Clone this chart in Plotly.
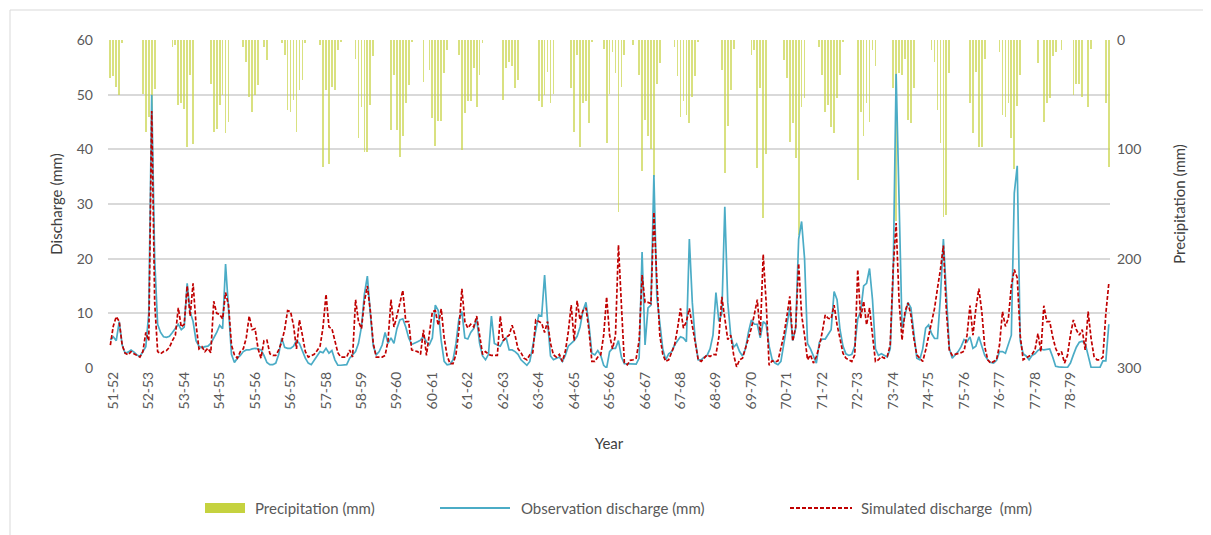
import plotly.graph_objects as go

# ---------------- data (monthly, 339 months) ----------------
year_labels = ["51-52", "52-53", "53-54", "54-55", "55-56", "56-57", "57-58", "58-59",
               "59-60", "60-61", "61-62", "62-63", "63-64", "64-65", "65-66", "66-67",
               "67-68", "68-69", "69-70", "70-71", "71-72", "72-73", "73-74", "74-75",
               "75-76", "76-77", "77-78", "78-79"]

precipitation = [
    35, 33, 43, 50, 3, 0, 0, 0, 0, 0, 0, 49,
    84, 70, 85, 45, 0, 0, 0, 0, 0, 6, 5, 59,
    58, 63, 98, 32, 95, 0, 0, 0, 0, 0, 40, 84,
    81, 59, 50, 85, 75, 0, 0, 0, 0, 6, 20, 52,
    66, 50, 41, 0, 6, 18, 0, 0, 0, 0, 3, 14,
    64, 66, 55, 84, 46, 37, 3, 0, 0, 0, 0, 5,
    116, 46, 113, 43, 46, 9, 2, 0, 0, 0, 0, 17,
    90, 61, 102, 102, 59, 15, 0, 0, 0, 0, 0, 82,
    32, 82, 107, 88, 58, 41, 2, 0, 0, 0, 38, 0,
    27, 71, 97, 74, 74, 30, 9, 0, 0, 0, 14, 101,
    67, 56, 56, 26, 61, 32, 3, 0, 0, 0, 0, 0,
    0, 55, 26, 20, 24, 44, 37, 0, 0, 0, 0, 0,
    0, 56, 61, 50, 29, 58, 49, 0, 0, 0, 0, 0,
    44, 84, 14, 98, 58, 56, 76, 2, 0, 0, 0, 8,
    94, 49, 11, 30, 157, 43, 14, 0, 0, 5, 0, 32,
    120, 73, 88, 100, 125, 40, 21, 0, 0, 0, 0, 6,
    33, 70, 56, 69, 76, 52, 33, 2, 0, 0, 0, 0,
    0, 0, 0, 27, 122, 79, 46, 8, 0, 0, 0, 0,
    0, 14, 9, 117, 44, 163, 104, 0, 0, 0, 0, 0,
    18, 35, 93, 76, 108, 178, 61, 53, 0, 0, 0, 0,
    6, 32, 66, 59, 80, 85, 53, 32, 2, 0, 0, 0,
    0, 128, 66, 88, 58, 75, 9, 24, 0, 0, 0, 0,
    0, 44, 166, 30, 32, 17, 73, 76, 44, 0, 0, 0,
    0, 0, 9, 20, 64, 94, 162, 160, 30, 0, 0, 0,
    0, 0, 0, 58, 85, 29, 98, 98, 17, 0, 0, 0,
    0, 11, 69, 70, 58, 90, 118, 60, 32, 0, 0, 0,
    0, 0, 21, 0, 75, 58, 53, 15, 11, 0, 9, 0,
    0, 0, 50, 40, 40, 52, 0, 61, 8, 0, 0, 0,
    0, 58, 116,
]

observed = [
    5.1, 5.7, 5.0, 8.5, 4.2, 2.7, 2.9, 3.3, 2.9, 2.4, 2.1, 3.0,
    3.9, 10.0, 50.0, 20.0, 8.0, 6.5, 5.7, 5.6, 5.8, 6.5, 7.2, 8.0,
    7.0, 7.5, 15.5, 10.3, 8.5, 5.0, 4.0, 3.7, 3.9, 4.0, 4.5, 5.5,
    6.5, 7.8, 7.2, 19.0, 10.0, 2.5, 1.0, 1.8, 2.3, 3.0, 3.3, 3.3,
    3.5, 3.6, 3.5, 3.3, 2.3, 1.0, 0.6, 0.6, 0.9, 2.5, 5.5, 3.8,
    3.6, 3.6, 4.0, 5.0, 4.5, 3.0, 1.8, 0.9, 0.6, 1.4, 2.3, 3.0,
    2.8, 3.6, 2.7, 3.2, 1.5, 0.5, 0.5, 0.5, 0.6, 1.8, 2.5, 3.0,
    4.5, 7.5, 13.5, 16.8, 10.0, 4.0, 2.4, 3.0, 4.2, 6.5, 4.5, 5.5,
    4.5, 7.2, 8.8, 9.0, 7.5, 5.5, 4.3, 4.5, 4.8, 5.1, 5.8, 4.8,
    4.3, 5.5, 11.5, 10.5, 5.0, 1.2, 0.6, 0.7, 1.5, 4.5, 9.0, 10.3,
    5.5, 5.3, 6.5, 7.2, 9.0, 4.5, 2.2, 1.5, 2.5, 9.5, 4.5, 4.2,
    4.0, 5.0, 5.5, 3.3, 3.3, 3.0, 2.5, 1.5, 1.0, 0.5, 1.2, 4.0,
    7.0, 9.7, 9.5, 17.0, 8.5, 2.2, 1.5, 1.8, 2.0, 1.2, 2.3, 4.0,
    4.5, 5.0, 5.8, 7.5, 10.5, 12.0, 8.0, 2.7, 2.4, 3.2, 2.3, 0.5,
    0.0, 3.0, 3.6, 3.6, 5.0, 2.0, 0.8, 0.8, 0.8, 0.8, 0.7, 1.8,
    21.2, 4.2, 11.0, 11.5, 35.3, 13.0, 8.5, 3.5, 1.5, 2.6, 3.0, 4.2,
    5.0, 5.7, 5.5, 4.8, 23.6, 12.0, 5.0, 1.5, 1.5, 2.0, 2.3, 3.5,
    6.0, 13.8, 8.5, 10.0, 29.5, 12.0, 6.0, 3.8, 4.4, 3.0, 2.2, 3.5,
    6.5, 8.8, 8.0, 8.0, 5.5, 8.5, 8.0, 4.0, 1.6, 0.9, 0.6, 1.2,
    4.5, 7.6, 11.0, 5.0, 7.3, 23.6, 26.8, 20.0, 4.5, 3.5, 2.0, 0.9,
    4.7, 5.3, 5.3, 6.2, 7.0, 14.0, 12.5, 7.0, 4.0, 2.6, 2.3, 2.5,
    4.0, 9.0, 10.3, 15.0, 15.5, 18.2, 12.5, 3.5, 2.3, 2.6, 2.3, 2.0,
    3.5, 17.0, 53.8, 28.0, 7.3, 9.6, 12.0, 11.0, 6.0, 1.8, 1.5, 3.5,
    7.3, 7.9, 6.3, 5.4, 5.4, 13.0, 23.6, 14.6, 3.6, 1.8, 2.4, 3.0,
    3.9, 5.2, 4.8, 5.7, 3.6, 4.0, 5.7, 3.9, 2.3, 1.5, 1.0, 0.9,
    1.4, 3.0, 3.0, 2.7, 4.2, 6.0, 32.0, 37.0, 5.0, 2.6, 2.2, 1.5,
    2.3, 2.6, 3.2, 3.5, 3.3, 3.4, 3.5, 2.0, 0.3, 0.2, 0.1, 0.1,
    0.1, 0.9, 2.4, 3.8, 4.7, 4.9, 4.5, 2.0, 0.1, 0.1, 0.1, 0.1,
    1.3, 1.3, 8.0,
]

simulated = [
    4.2, 7.7, 9.4, 8.5, 4.2, 2.7, 2.4, 3.0, 2.6, 2.3, 2.0, 3.0,
    6.5, 5.0, 47.0, 12.0, 3.0, 2.6, 3.0, 3.2, 3.8, 5.0, 6.0, 11.0,
    7.5, 8.0, 15.0, 9.5, 15.5, 8.0, 3.5, 3.9, 3.0, 3.6, 2.8, 12.2,
    10.0, 9.8, 9.0, 13.8, 11.5, 4.2, 2.4, 1.8, 3.0, 3.5, 5.5, 9.5,
    7.0, 7.2, 3.5, 1.8, 5.0, 5.1, 2.6, 2.3, 2.3, 3.3, 4.8, 7.0,
    10.5, 10.3, 7.8, 3.5, 8.8, 6.0, 3.0, 2.0, 2.2, 2.5, 3.2, 4.0,
    7.5, 13.5, 7.5, 7.2, 5.0, 2.8, 2.0, 2.0, 2.0, 3.3, 2.0, 12.5,
    8.5, 7.2, 12.2, 15.0, 10.5, 4.5, 2.0, 2.0, 2.0, 2.3, 5.0, 12.5,
    7.5, 9.5, 12.0, 14.2, 8.5, 8.5, 3.3, 3.1, 3.0, 2.5, 7.0, 2.3,
    6.0, 10.3, 10.5, 7.8, 10.8, 5.5, 2.2, 0.8, 0.8, 2.5, 7.0, 14.5,
    8.5, 7.3, 8.0, 7.5, 9.5, 5.5, 2.5, 3.0, 2.5, 2.3, 2.3, 2.3,
    9.5, 5.0, 5.6, 6.0, 7.8, 6.0, 3.5, 2.8, 1.8, 1.5, 2.4, 2.8,
    8.8, 8.5, 8.2, 6.5, 8.5, 4.5, 2.4, 2.0, 2.5, 1.2, 3.0, 6.5,
    11.5, 5.0, 12.3, 8.8, 10.5, 11.0, 7.0, 1.2, 1.2, 2.0, 2.4, 6.0,
    13.0, 6.0, 3.5, 6.0, 22.5, 11.5, 1.0, 0.6, 1.4, 1.5, 1.8, 5.0,
    17.0, 12.0, 12.0, 11.8, 28.5, 16.0, 6.0, 2.5, 1.2, 1.5, 3.0, 4.2,
    7.2, 10.9, 7.3, 8.5, 10.9, 7.9, 4.2, 1.5, 1.2, 1.8, 2.4, 2.1,
    2.5, 2.4, 5.7, 13.0, 9.1, 5.2, 6.0, 2.4, 0.2, 1.5, 1.8, 3.6,
    5.4, 7.3, 9.8, 12.5, 6.0, 20.8, 12.0, 0.5, 1.3, 1.1, 1.3, 3.6,
    6.0, 9.4, 13.1, 4.9, 7.5, 19.1, 9.7, 6.0, 1.5, 2.4, 0.9, 2.1,
    4.0, 6.6, 9.7, 9.1, 9.0, 11.5, 7.9, 5.4, 2.7, 1.8, 1.5, 1.2,
    2.4, 18.0, 9.1, 12.2, 7.9, 11.0, 6.0, 1.2, 1.5, 2.1, 1.8, 2.1,
    4.2, 18.3, 26.5, 12.2, 5.1, 10.3, 11.9, 9.7, 5.4, 2.4, 1.8, 1.2,
    3.3, 6.0, 8.5, 10.9, 14.6, 18.0, 22.4, 10.5, 3.3, 2.3, 2.5, 2.6,
    2.8, 3.1, 6.0, 11.4, 6.0, 10.9, 14.5, 10.3, 3.9, 1.5, 0.9, 1.2,
    1.5, 4.2, 10.3, 7.6, 9.1, 15.0, 18.0, 16.5, 6.0, 1.5, 1.8, 2.1,
    2.5, 3.3, 6.3, 3.0, 11.4, 8.5, 8.5, 5.7, 3.6, 2.4, 3.0, 0.9,
    2.3, 6.0, 8.8, 7.0, 6.0, 7.0, 3.3, 10.3, 5.4, 2.1, 1.5, 1.5,
    2.0, 10.0, 15.5,
]

n = min(len(precipitation), len(observed), len(simulated))
months = list(range(n))
tick_positions = [1 + 12 * k for k in range(len(year_labels))]

FONT = "Lato, 'Open Sans', sans-serif"
GREY = "#595959"
PREC_C = "#c5d23f"
BAR_C = "#c9d44a"
OBS_C = "#4bacc6"
SIM_C = "#c00000"

fig = go.Figure()
fig.add_trace(go.Bar(x=months, y=precipitation[:n], yaxis="y", name="Precipitation (mm)",
                     marker=dict(color=BAR_C, line=dict(width=0), opacity=0.7), width=0.25))
fig.add_trace(go.Scatter(x=months, y=observed[:n], yaxis="y2", mode="lines",
                         name="Observation discharge (mm)",
                         line=dict(color=OBS_C, width=1.7)))
fig.add_trace(go.Scatter(x=months, y=simulated[:n], yaxis="y2", mode="lines",
                         name="Simulated discharge  (mm)",
                         line=dict(color=SIM_C, width=1.7, dash="4px,2px")))

OFF = 8  # page body margin
W, H = 1203, 527
# plot area in page pixels
L, R, T, B = 108, 1110, 40, 368
pw, ph = R - L, B - T


def px(x):
    return (x - L) / pw


def py(y):
    return (B - y) / ph


shapes = [
    # chart frame (top and left edges visible in the reference)
    dict(type="line", xref="paper", yref="paper", x0=px(10), x1=px(1230), y0=py(10), y1=py(10),
         line=dict(color="#d9d9d9", width=1), layer="below"),
    dict(type="line", xref="paper", yref="paper", x0=px(10), x1=px(10), y0=py(10), y1=py(545),
         line=dict(color="#d9d9d9", width=1), layer="below"),
    # legend symbols
    dict(type="rect", xref="paper", yref="paper", x0=px(205), x1=px(245), y0=py(513), y1=py(503),
         line=dict(width=0), fillcolor=PREC_C),
    dict(type="line", xref="paper", yref="paper", x0=px(440), x1=px(510), y0=py(508), y1=py(508),
         line=dict(color=OBS_C, width=2)),
    dict(type="line", xref="paper", yref="paper", x0=px(790), x1=px(852), y0=py(508), y1=py(508),
         line=dict(color=SIM_C, width=2, dash="4px,2px")),
]
annotations = [
    dict(xref="paper", yref="paper", x=px(253), y=py(508), xanchor="left", yanchor="middle",
         text="Precipitation (mm)", showarrow=False, font=dict(family=FONT, size=15, color=GREY)),
    dict(xref="paper", yref="paper", x=px(519), y=py(508), xanchor="left", yanchor="middle",
         text="Observation discharge (mm)", showarrow=False, font=dict(family=FONT, size=15, color=GREY)),
    dict(xref="paper", yref="paper", x=px(859), y=py(508), xanchor="left", yanchor="middle",
         text="Simulated discharge  (mm)", showarrow=False, font=dict(family=FONT, size=15, color=GREY)),
]

fig.update_layout(
    width=W, height=H,
    margin=dict(l=L - OFF, r=W - (R - OFF), t=T - OFF, b=H - (B - OFF), autoexpand=False),
    paper_bgcolor="white", plot_bgcolor="white",
    showlegend=False,
    font=dict(family=FONT, size=14, color=GREY),
    bargap=0,
    xaxis=dict(range=[-0.8, n - 0.8 + 0.2], tickmode="array", tickvals=tick_positions,
               ticktext=year_labels, tickangle=-90, showgrid=False, zeroline=False,
               showline=False, ticks="", tickfont=dict(size=14, color=GREY),
               title=dict(text="Year", font=dict(size=15, color="#404040"), standoff=30)),
    yaxis=dict(side="right", range=[300, 0], tickvals=[0, 100, 200, 300], showgrid=False,
               zeroline=False, showline=False, ticks="", tickfont=dict(size=14, color=GREY),
               ticklabelstandoff=6,
               title=dict(text="Precipitation (mm)", font=dict(size=15, color="#404040"), standoff=34)),
    yaxis2=dict(overlaying="y", side="left", range=[0, 60], tickvals=[0, 10, 20, 30, 40, 50, 60],
                showgrid=True, gridcolor="#d9d9d9", gridwidth=1.5, zeroline=False, showline=False,
                ticks="", tickfont=dict(size=14, color=GREY), ticklabelstandoff=14,
                title=dict(text="Discharge (mm)", font=dict(size=15, color="#404040"), standoff=10)),
    shapes=shapes,
    annotations=annotations,
)

fig.write_html("out.html")
